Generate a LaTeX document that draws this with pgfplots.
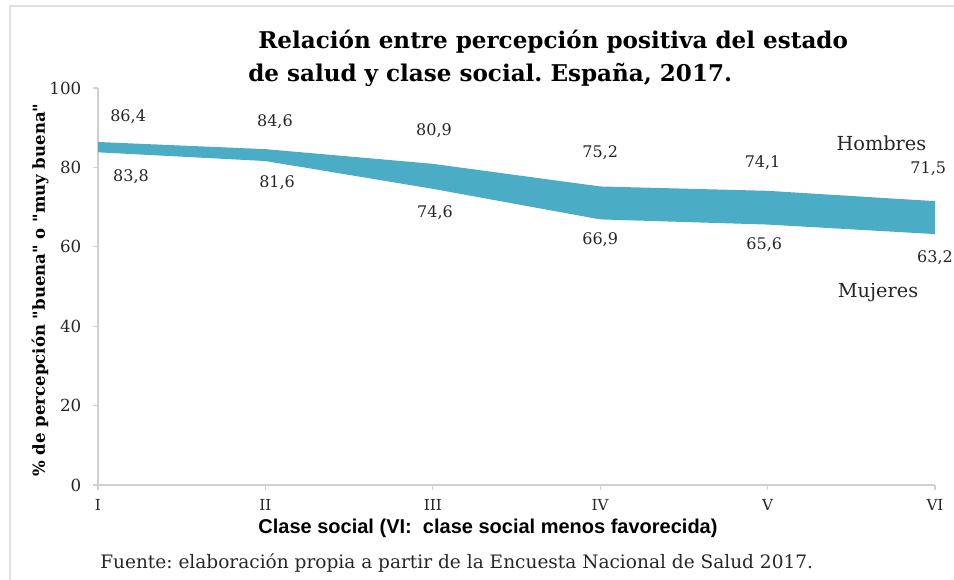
\documentclass[border=0pt]{standalone}
\usepackage{pgfplots}
\pgfplotsset{compat=1.18}
\usepgfplotslibrary{fillbetween}
\usepackage{fontspec}
\setmainfont{DejaVu Serif}
\newfontfamily\sansf{Liberation Sans}
\definecolor{band}{HTML}{4BACC6}
\definecolor{axgray}{HTML}{D0D0D0}
\definecolor{txt}{HTML}{262626}
\frenchspacing
\begin{document}
\begin{tikzpicture}
\begin{axis}[
  at={(73.5pt,70.5pt)}, anchor=south west,
  scale only axis, width=627.75pt, height=297.75pt,
  xmin=0, xmax=5, ymin=0, ymax=100,
  axis x line=bottom, axis y line=left,
  axis line style={draw=axgray, line width=1pt, -},
  xtick={0,1,2,3,4,5},
  xticklabels={\mbox{I},\mbox{II},\mbox{III},\mbox{IV},\mbox{V},\mbox{VI}},
  ytick={0,20,40,60,80,100},
  yticklabels={\mbox{0},\mbox{20},\mbox{40},\mbox{60},\mbox{80},\mbox{100}},
  tick style={draw=axgray, line width=1pt},
  tick align=outside,
  major tick length=4pt,
  /pgf/number format/assume math mode=true,
  xticklabel style={font=\fontsize{11.4}{13}\selectfont, text=txt, yshift=-3pt},
  yticklabel style={font=\fontsize{12.5}{14}\selectfont, text=txt, xshift=-5pt},
  clip=false,
]
\addplot[name path=h, draw=none] coordinates {(0,86.4) (1,84.6) (2,80.9) (3,75.2) (4,74.1) (5,71.5)};
\addplot[name path=m, draw=none] coordinates {(0,83.8) (1,81.6) (2,74.6) (3,66.9) (4,65.6) (5,63.2)};
\addplot[fill=band, draw=none] fill between[of=h and m];
\begin{scope}[every node/.style={font=\fontsize{12}{14}\selectfont, text=txt}]
\node at (axis cs:0.18,92.7) {86,4};
\node at (axis cs:1.057,91.4) {84,6};
\node at (axis cs:2.007,89.2) {80,9};
\node at (axis cs:3.0,83.6) {75,2};
\node at (axis cs:3.97,81.1) {74,1};
\node at (axis cs:4.96,79.8) {71,5};
\node at (axis cs:0.197,77.6) {83,8};
\node at (axis cs:1.07,76.1) {81,6};
\node at (axis cs:2.013,68.5) {74,6};
\node at (axis cs:3.0,61.7) {66,9};
\node at (axis cs:3.98,60.5) {65,6};
\node at (axis cs:5.0,57.2) {63,2};
\end{scope}
\node[font=\fontsize{14.5}{16}\selectfont, text=txt] at (axis cs:4.68,86.1) {Hombres};
\node[font=\fontsize{14.5}{16}\selectfont, text=txt] at (axis cs:4.66,48.6) {Mujeres};
\end{axis}
\begin{scope}[x=0.75pt,y=0.75pt]
\draw[color=black!12, line width=1.6pt] (10,-5) -- (10,573) -- (960,573);
\node[anchor=west, font=\fontsize{17.3}{20}\selectfont\bfseries, inner sep=0pt] at (258,537) {Relación entre percepción positiva del estado};
\node[anchor=west, font=\fontsize{17.3}{20}\selectfont\bfseries, inner sep=0pt] at (248,504) {de salud y clase social. España, 2017.};
\node[rotate=90, font=\fontsize{12.4}{14}\selectfont\bfseries, inner sep=0pt] at (40,289) {\% de percepción \textquotedbl buena\textquotedbl{} o \textquotedbl muy buena\textquotedbl};
\node[font=\sansf\fontsize{15}{17}\selectfont\bfseries, inner sep=0pt] at (488,51) {Clase social (VI:\ \ clase social menos favorecida)};
\node[anchor=west, font=\fontsize{13.9}{16}\selectfont, text=txt, inner sep=0pt] at (100,16) {Fuente: elaboración propia a partir de la Encuesta Nacional de Salud 2017.};
\end{scope}
\pgfresetboundingbox
\path[use as bounding box] (0pt,0pt) rectangle (715.5pt,434.25pt);
\end{tikzpicture}
\end{document}
